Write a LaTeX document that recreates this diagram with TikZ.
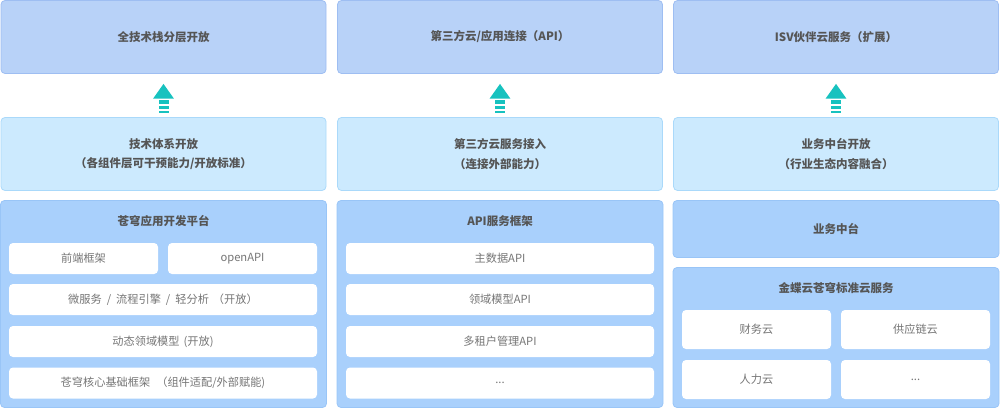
\documentclass[tikz,border=0pt]{standalone}
\usepackage{fontspec}
\setmainfont{Noto Sans CJK SC}
\definecolor{topfill}{HTML}{B8D2F8}
\definecolor{topdraw}{HTML}{9EBEF2}
\definecolor{midfill}{HTML}{CCEAFE}
\definecolor{middraw}{HTML}{AAD9FA}
\definecolor{botfill}{HTML}{A9D0FC}
\definecolor{botdraw}{HTML}{99C5F7}
\definecolor{arrowc}{HTML}{17C2BF}
\definecolor{titletext}{HTML}{555555}
\definecolor{innertext}{HTML}{767676}
\tikzset{
  basebox/.style={rectangle, rounded corners=4pt, inner sep=0pt, line width=0.8pt, align=center},
  topbox/.style={basebox, fill=topfill, draw=topdraw, text=titletext, font=\fontsize{11.5}{19.5}\selectfont\bfseries},
  midbox/.style={basebox, fill=midfill, draw=middraw, text=titletext, font=\fontsize{11.5}{19.5}\selectfont\bfseries},
  botbox/.style={basebox, fill=botfill, draw=botdraw, text=titletext, font=\fontsize{11.5}{19.5}\selectfont\bfseries},
  cardbox/.style={basebox, fill=white, draw=none, text=innertext, font=\fontsize{11.2}{14}\selectfont},
  titlelabel/.style={inner sep=0pt, text=titletext, font=\fontsize{11.5}{14}\selectfont\bfseries},
  uparr/.pic={
    \fill[arrowc] (0,0) -- (10.4,14.7) -- (-10.4,14.7) -- cycle;
    \fill[arrowc] (-5,16.6) rectangle (5,20);
    \fill[arrowc] (-5,22) rectangle (5,24.8);
    \fill[arrowc] (-5,26.7) rectangle (5,29.4);
  }
}
\begin{document}
\begin{tikzpicture}[x=1pt,y=-1pt]
\useasboundingbox (0,0) rectangle (1000,409);

% ---------- top row ----------
\node[topbox, minimum width=325pt, minimum height=73pt] (t1) at (163.5,37) {全技术栈分层开放};
\node[topbox, minimum width=325pt, minimum height=73pt] (t2) at (500,37) {第三方云/应用连接（API）};
\node[topbox, minimum width=325pt, minimum height=73pt] (t3) at (836,37) {ISV伙伴云服务（扩展）};

% ---------- middle row ----------
\node[midbox, minimum width=325pt, minimum height=73pt] (m1) at (163.5,154) {技术体系开放\\（各组件层可干预能力/开放标准）};
\node[midbox, minimum width=325pt, minimum height=73pt] (m2) at (500,154) {第三方云服务接入\\（连接外部能力）};
\node[midbox, minimum width=325pt, minimum height=73pt] (m3) at (836,154) {业务中台开放\\（行业生态内容融合）};

% ---------- arrows ----------
\coordinate (a1) at ([yshift=-10pt]t1.south);
\coordinate (a2) at ([yshift=-10pt]t2.south);
\coordinate (a3) at ([yshift=-10pt]t3.south);
\path (a1) pic {uparr};
\path (a2) pic {uparr};
\path (a3) pic {uparr};

% ---------- column 1 ----------
\node[botbox, minimum width=326pt, minimum height=207pt] (c1) at (163.5,304) {};
\node[titlelabel] (c1t) at (163.5,221) {苍穹应用开发平台};
\node[cardbox, minimum width=149pt, minimum height=31pt] (c1a) at (83.5,258.5) {前端框架};
\node[cardbox, minimum width=149pt, minimum height=31pt] (c1b) at (242.5,258.5) {openAPI};
\node[cardbox, minimum width=308pt, minimum height=31pt] (c1c) at (163,299.5) {微服务\hspace{5pt}/\hspace{5pt}流程引擎\hspace{5pt}/\hspace{5pt}轻分析\hspace{4pt}（开放）};
\node[cardbox, minimum width=308pt, minimum height=31pt] (c1d) at (163,341.5) {动态领域模型\hspace{4pt}(开放)};
\node[cardbox, minimum width=308pt, minimum height=31pt] (c1e) at (163,383) {苍穹核心基础框架\hspace{6pt}（组件适配/外部赋能)};

% ---------- column 2 ----------
\node[botbox, minimum width=326pt, minimum height=207pt] (c2) at (500,304) {};
\node[titlelabel] (c2t) at (500,221) {API服务框架};
\node[cardbox, minimum width=308pt, minimum height=31pt] (c2a) at (500,258.5) {主数据API};
\node[cardbox, minimum width=308pt, minimum height=31pt] (c2b) at (500,299.5) {领域模型API};
\node[cardbox, minimum width=308pt, minimum height=31pt] (c2c) at (500,341.5) {多租户管理API};
\node[cardbox, minimum width=308pt, minimum height=31pt] (c2d) at (500,383) {...};

% ---------- column 3 ----------
\node[botbox, minimum width=326pt, minimum height=57pt] (c3h) at (836,229) {业务中台};
\node[botbox, minimum width=326pt, minimum height=140pt] (c3) at (836,337.5) {};
\node[titlelabel] (c3t) at (836,288) {金蝶云苍穹标准云服务};
\node[cardbox, minimum width=149pt, minimum height=39pt] (c3a) at (756.5,329.5) {财务云};
\node[cardbox, minimum width=149pt, minimum height=39pt] (c3b) at (915.5,329.5) {供应链云};
\node[cardbox, minimum width=149pt, minimum height=39pt] (c3c) at (756.5,379.5) {人力云};
\node[cardbox, minimum width=149pt, minimum height=39pt] (c3d) at (915.5,379.5) {...};
\end{tikzpicture}
\end{document}
